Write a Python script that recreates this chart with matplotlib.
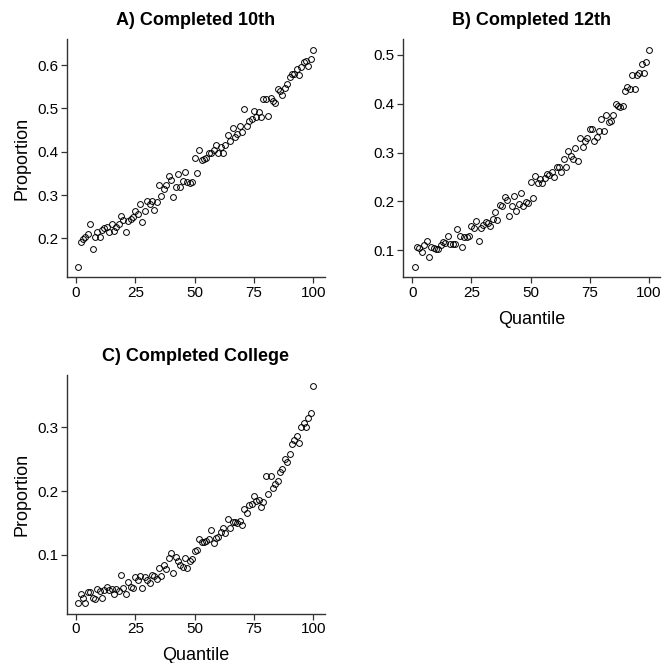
import numpy as np
import matplotlib
matplotlib.use("Agg")
import matplotlib.pyplot as plt

plt.rcParams["font.family"] = ["Liberation Sans", "DejaVu Sans"]

# %% data

quantile = np.arange(1, 101)

completed_10th = [
    0.135, 0.192, 0.198, 0.202, 0.210, 0.232, 0.175, 0.202, 0.214, 0.202,
    0.219, 0.224, 0.226, 0.214, 0.232, 0.217, 0.227, 0.232, 0.252, 0.243,
    0.215, 0.240, 0.245, 0.250, 0.262, 0.256, 0.280, 0.238, 0.262, 0.287,
    0.279, 0.287, 0.265, 0.283, 0.324, 0.298, 0.315, 0.324, 0.344, 0.335,
    0.296, 0.319, 0.348, 0.319, 0.332, 0.353, 0.331, 0.328, 0.331, 0.386,
    0.351, 0.403, 0.381, 0.383, 0.386, 0.396, 0.398, 0.404, 0.416, 0.396,
    0.410, 0.398, 0.416, 0.439, 0.425, 0.454, 0.433, 0.441, 0.459, 0.445,
    0.498, 0.459, 0.470, 0.476, 0.495, 0.479, 0.492, 0.481, 0.521, 0.522,
    0.483, 0.525, 0.517, 0.513, 0.545, 0.540, 0.531, 0.548, 0.556, 0.573,
    0.579, 0.579, 0.592, 0.576, 0.595, 0.607, 0.609, 0.598, 0.615, 0.635,
]

completed_12th = [
    0.067, 0.107, 0.105, 0.096, 0.111, 0.119, 0.086, 0.107, 0.105, 0.103,
    0.102, 0.110, 0.118, 0.115, 0.130, 0.112, 0.113, 0.112, 0.144, 0.129,
    0.107, 0.127, 0.127, 0.129, 0.149, 0.145, 0.160, 0.120, 0.145, 0.152,
    0.157, 0.156, 0.149, 0.165, 0.178, 0.163, 0.193, 0.190, 0.209, 0.202,
    0.171, 0.190, 0.212, 0.180, 0.195, 0.218, 0.190, 0.199, 0.196, 0.240,
    0.208, 0.253, 0.238, 0.246, 0.238, 0.248, 0.256, 0.254, 0.261, 0.250,
    0.271, 0.270, 0.261, 0.286, 0.271, 0.303, 0.294, 0.286, 0.310, 0.283,
    0.329, 0.312, 0.324, 0.329, 0.349, 0.348, 0.324, 0.331, 0.345, 0.369,
    0.345, 0.377, 0.363, 0.365, 0.377, 0.399, 0.396, 0.393, 0.396, 0.425,
    0.434, 0.431, 0.458, 0.431, 0.458, 0.463, 0.482, 0.463, 0.486, 0.510,
]

completed_college = [
    0.025, 0.039, 0.032, 0.025, 0.042, 0.042, 0.032, 0.031, 0.046, 0.044,
    0.033, 0.045, 0.050, 0.045, 0.047, 0.039, 0.046, 0.044, 0.068, 0.048,
    0.039, 0.057, 0.050, 0.049, 0.066, 0.060, 0.067, 0.049, 0.066, 0.061,
    0.056, 0.069, 0.067, 0.062, 0.079, 0.067, 0.085, 0.078, 0.095, 0.103,
    0.071, 0.097, 0.090, 0.085, 0.081, 0.095, 0.079, 0.091, 0.094, 0.106,
    0.107, 0.125, 0.120, 0.120, 0.122, 0.125, 0.139, 0.119, 0.126, 0.128,
    0.136, 0.142, 0.135, 0.157, 0.142, 0.152, 0.152, 0.150, 0.153, 0.147,
    0.172, 0.165, 0.178, 0.180, 0.193, 0.184, 0.186, 0.175, 0.183, 0.223,
    0.196, 0.223, 0.205, 0.211, 0.216, 0.230, 0.234, 0.250, 0.245, 0.258,
    0.274, 0.280, 0.287, 0.275, 0.300, 0.307, 0.301, 0.315, 0.322, 0.365,
]

titles = ["A) Completed 10th", "B) Completed 12th", "C) Completed College"]
yticks = [[0.2, 0.3, 0.4, 0.5, 0.6], [0.1, 0.2, 0.3, 0.4, 0.5], [0.1, 0.2, 0.3]]
xticks = [0, 25, 50, 75, 100]

# %% figure

fig = plt.figure(figsize=(6.62, 6.63), dpi=100)

boxes = [
    [0.1006, 0.5817, 0.3903, 0.3594],
    [0.6088, 0.5817, 0.3888, 0.3594],
    [0.1006, 0.0744, 0.3903, 0.3600],
]
series = [completed_10th, completed_12th, completed_college]
show_ylab = [True, False, True]
show_xlab = [False, True, True]

axis_col = "#333333"

for box, y, title, yt, yl, xl in zip(boxes, series, titles, yticks, show_ylab, show_xlab):
    ax = fig.add_axes(box)
    ax.plot(quantile, y, "o", ms=4.2, mfc="none", mec="black", mew=0.7)

    lo, hi = min(y), max(y)
    pad = (hi - lo) * 0.05
    ax.set_ylim(lo - pad, hi + pad)
    ax.set_xlim(1 - 99 * 0.05, 100 + 99 * 0.05)
    ax.set_xticks(xticks)
    ax.set_yticks(yt)
    ax.set_yticklabels([f"{v:.1f}" for v in yt])

    for s in ["top", "right"]:
        ax.spines[s].set_visible(False)
    for s in ["left", "bottom"]:
        ax.spines[s].set_color(axis_col)
        ax.spines[s].set_linewidth(1.0)
    ax.tick_params(length=4, width=0.9, color=axis_col, labelsize=11,
                   labelcolor="black", pad=2)

    ax.set_title(title, fontsize=13, fontweight="bold", pad=10)
    if yl:
        ax.set_ylabel("Proportion", fontsize=13, labelpad=5)
    if xl:
        ax.set_xlabel("Quantile", fontsize=13, labelpad=8)

fig.savefig("out.png", dpi=100)
